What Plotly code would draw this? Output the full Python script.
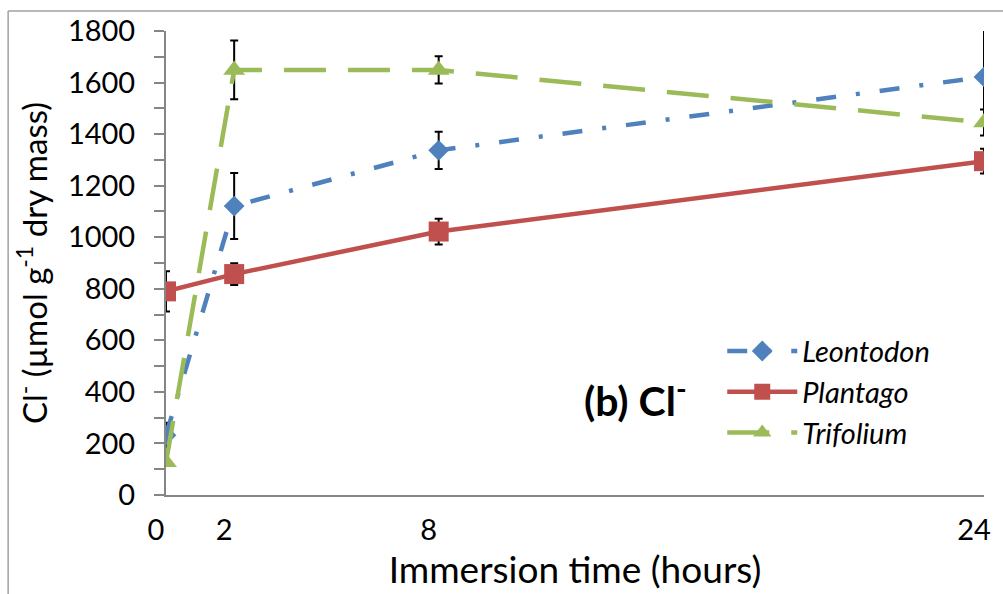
import plotly.graph_objects as go

hours = [0, 2, 8, 24]
x_ticks = [0, 2, 8, 24]
x_tick_text = ["0", "2", "8", "24"]

leontodon = [232, 1121, 1337, 1622]
leontodon_err = [48, 128, 72, 185]
plantago = [790, 857, 1022, 1295]
plantago_err = [78, 42, 50, 48]
trifolium = [127, 1649, 1649, 1445]
trifolium_err = [10, 114, 53, 50]

FONT = "Lato"
AXIS_COL = "#868686"

fig = go.Figure()

series = [
    ("Leontodon", leontodon, leontodon_err, "#4F81BD", "diamond", 16, "20px,20px,4px,20px"),
    ("Plantago", plantago, plantago_err, "#C0504D", "square", 20, "solid"),
    ("Trifolium", trifolium, trifolium_err, "#9BBB59", "triangle-up", 19, "42px,22px"),
]

for name, ys, err, col, sym, size, dash in series:
    fig.add_trace(go.Scatter(
        x=hours, y=ys, name=name, mode="lines+markers",
        line=dict(color=col, width=4.5, dash=dash),
        marker=dict(symbol=sym, size=size, color=col),
        error_y=dict(type="data", array=err, visible=True, color="black",
                     thickness=2, width=4),
    ))

fig.update_layout(
    width=1003, height=594,
    margin=dict(l=166, r=14, t=29, b=99),
    paper_bgcolor="white", plot_bgcolor="white",
    font=dict(family=FONT, color="black", size=29),
    showlegend=True,
    legend=dict(
        x=0.68, y=0.365, xanchor="left", yanchor="top",
        font=dict(family=FONT, size=29, style="italic"),
        itemwidth=70, tracegroupgap=0, bgcolor="rgba(0,0,0,0)",
    ),
    xaxis=dict(
        range=[0, 24], showline=True, linecolor=AXIS_COL, linewidth=2,
        showgrid=False, zeroline=False, ticks="",
        tickvals=x_ticks, ticktext=x_tick_text,
        ticklabelshift=-10, ticklabelstandoff=8,
        tickfont=dict(size=29),
        title=dict(text="Immersion time (hours)", font=dict(size=37), standoff=10),
    ),
    yaxis=dict(
        range=[0, 1800], showline=True, linecolor=AXIS_COL, linewidth=2,
        showgrid=False, zeroline=False,
        dtick=200, tick0=0, ticks="outside", ticklen=10, tickwidth=2, tickcolor=AXIS_COL,
        minor=dict(dtick=100, ticks="outside", ticklen=10, tickwidth=2, tickcolor=AXIS_COL),
        ticklabelstandoff=13,
        tickfont=dict(size=29),
        title=dict(text="Cl<sup>-</sup> (µmol g<sup>-1</sup> dry mass)", font=dict(size=33), standoff=10),
    ),
    annotations=[dict(
        text="<b>(b) Cl<sup>-</sup></b>", xref="paper", yref="paper",
        x=0.574, y=0.208, xanchor="center", yanchor="middle",
        showarrow=False, font=dict(family=FONT, size=41, color="black"),
    )],
    shapes=[
        dict(type="line", xref="paper", yref="paper", x0=-0.193, x1=-0.193, y0=1.043, y1=-0.3,
             line=dict(color="#A0A0A0", width=1.5)),
        dict(type="line", xref="paper", yref="paper", x0=-0.193, x1=1.1, y0=1.043, y1=1.043,
             line=dict(color="#A0A0A0", width=1.5)),
    ],
)

fig.write_html("out.html")
